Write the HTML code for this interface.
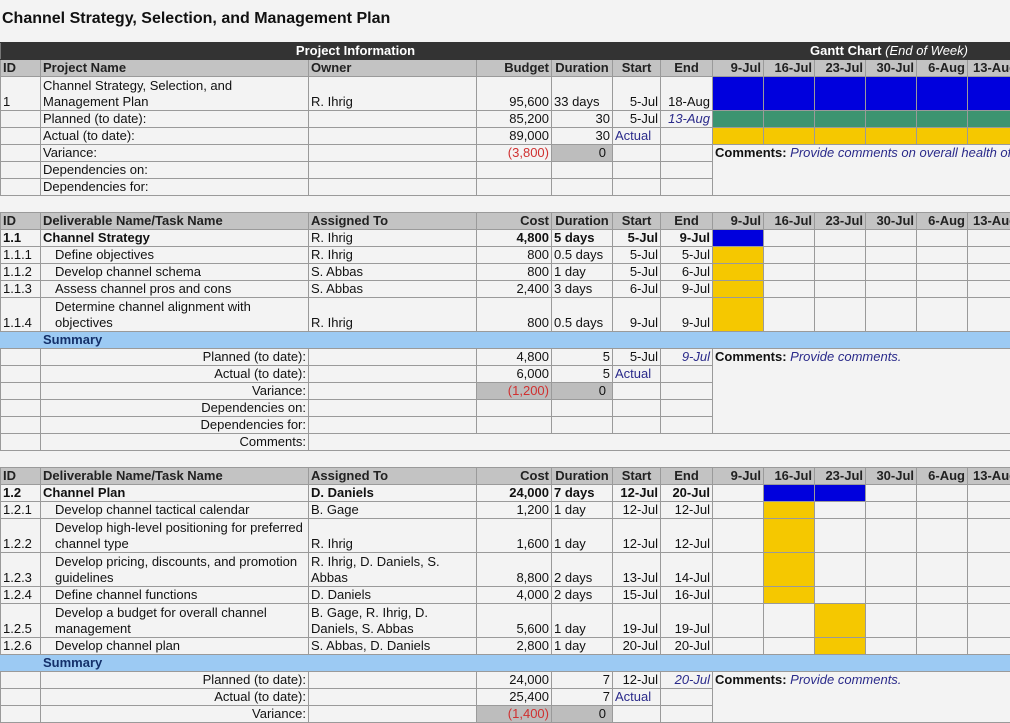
<!DOCTYPE html>
<html><head><meta charset="utf-8">
<style>
html,body{margin:0;padding:0;background:#f3f3f3;}
body{width:1010px;height:723px;overflow:hidden;position:relative;font-family:"Liberation Sans",Arial,sans-serif;font-size:13px;color:#111;}
.title{position:absolute;left:2px;top:10px;font-size:16px;font-weight:bold;}
table{position:absolute;left:0;top:42px;border-collapse:collapse;table-layout:fixed;width:1010px;}
td{border:1px solid #9a9a9a;padding:0 2px;height:16px;line-height:16px;white-space:nowrap;overflow:hidden;vertical-align:bottom;}
tr.d td{height:33px;}
.r{text-align:right}.c{text-align:center}.b{font-weight:bold}
.hd td{background:#333;color:#fff;font-weight:bold;border-color:#333;border-left:1px solid #777;}
.gh td{background:#c3c3c3;font-weight:bold;color:#222;}
.bu{background:#0000dd;}.gr{background:#3c9470;}.ye{background:#f5c800;}
.sm td{background:#9ccaf3;border-left-color:#9ccaf3;border-right-color:#9ccaf3;}
.sm .s{color:#14306a;font-weight:bold;}
.it{color:#2a2a8a;font-style:italic}.bl{color:#2a2a8a}
.red{color:#d03030}.gy{background:#bdbdbd}
.blank td{border-left:none;border-right:none;}
.ind{padding-left:14px}
.cm{vertical-align:top;}
.cm i{color:#2a2a8a}
</style></head><body>
<div class="title">Channel Strategy, Selection, and Management Plan</div>
<table>
<colgroup><col style="width:40px"><col style="width:268px"><col style="width:168px"><col style="width:75px"><col style="width:61px"><col style="width:48px"><col style="width:52px"><col style="width:51px"><col style="width:51px"><col style="width:51px"><col style="width:51px"><col style="width:51px"><col style="width:43px"></colgroup>
<tr class="hd"><td colspan="7" style="text-align:center;padding-left:0">Project Information</td><td colspan="6" style="padding-left:97px">Gantt Chart <i style="font-weight:normal">(End of Week)</i></td></tr>
<tr class="gh"><td>ID</td><td>Project Name</td><td>Owner</td><td class="r">Budget</td><td class="c">Duration</td><td class="c">Start</td><td class="c">End</td><td class="r">9-Jul</td><td class="r">16-Jul</td><td class="r">23-Jul</td><td class="r">30-Jul</td><td class="r">6-Aug</td><td style="padding-left:5px">13-Aug</td></tr>
<tr class="d"><td>1</td><td>Channel Strategy, Selection, and<br>Management Plan</td><td>R. Ihrig</td><td class="r">95,600</td><td>33 days</td><td class="r">5-Jul</td><td class="r">18-Aug</td><td class="bu"></td><td class="bu"></td><td class="bu"></td><td class="bu"></td><td class="bu"></td><td class="bu"></td></tr>
<tr><td></td><td>Planned (to date):</td><td></td><td class="r">85,200</td><td class="r">30</td><td class="r">5-Jul</td><td class="r it">13-Aug</td><td class="gr"></td><td class="gr"></td><td class="gr"></td><td class="gr"></td><td class="gr"></td><td class="gr"></td></tr>
<tr><td></td><td>Actual (to date):</td><td></td><td class="r">89,000</td><td class="r">30</td><td class="bl">Actual</td><td></td><td class="ye"></td><td class="ye"></td><td class="ye"></td><td class="ye"></td><td class="ye"></td><td class="ye"></td></tr>
<tr><td></td><td>Variance:</td><td></td><td class="r red">(3,800)</td><td class="r gy" style="padding-right:6px">0</td><td></td><td></td><td colspan="6" rowspan="3" class="cm"><b>Comments:</b> <i>Provide comments on overall health of the project</i></td></tr>
<tr><td></td><td>Dependencies on:</td><td></td><td></td><td></td><td></td><td></td></tr>
<tr><td></td><td>Dependencies for:</td><td></td><td></td><td></td><td></td><td></td></tr>
<tr class="blank"><td colspan="13"></td></tr>
<tr class="gh"><td>ID</td><td>Deliverable Name/Task Name</td><td>Assigned To</td><td class="r">Cost</td><td class="c">Duration</td><td class="c">Start</td><td class="c">End</td><td class="r">9-Jul</td><td class="r">16-Jul</td><td class="r">23-Jul</td><td class="r">30-Jul</td><td class="r">6-Aug</td><td style="padding-left:5px">13-Aug</td></tr>
<tr class="b"><td>1.1</td><td>Channel Strategy</td><td style="font-weight:normal">R. Ihrig</td><td class="r">4,800</td><td>5 days</td><td class="r">5-Jul</td><td class="r">9-Jul</td><td class="bu"></td><td></td><td></td><td></td><td></td><td></td></tr>
<tr><td>1.1.1</td><td class="ind">Define objectives</td><td>R. Ihrig</td><td class="r">800</td><td>0.5 days</td><td class="r">5-Jul</td><td class="r">5-Jul</td><td class="ye"></td><td></td><td></td><td></td><td></td><td></td></tr>
<tr><td>1.1.2</td><td class="ind">Develop channel schema</td><td>S. Abbas</td><td class="r">800</td><td>1 day</td><td class="r">5-Jul</td><td class="r">6-Jul</td><td class="ye"></td><td></td><td></td><td></td><td></td><td></td></tr>
<tr><td>1.1.3</td><td class="ind">Assess channel pros and cons</td><td>S. Abbas</td><td class="r">2,400</td><td>3 days</td><td class="r">6-Jul</td><td class="r">9-Jul</td><td class="ye"></td><td></td><td></td><td></td><td></td><td></td></tr>
<tr class="d"><td>1.1.4</td><td class="ind">Determine channel alignment with<br>objectives</td><td>R. Ihrig</td><td class="r">800</td><td>0.5 days</td><td class="r">9-Jul</td><td class="r">9-Jul</td><td class="ye"></td><td></td><td></td><td></td><td></td><td></td></tr>
<tr class="sm"><td></td><td class="s">Summary</td><td colspan="11"></td></tr>
<tr><td></td><td class="r">Planned (to date):</td><td></td><td class="r">4,800</td><td class="r">5</td><td class="r">5-Jul</td><td class="r it">9-Jul</td><td colspan="6" rowspan="5" class="cm"><b>Comments:</b> <i>Provide comments.</i></td></tr>
<tr><td></td><td class="r">Actual (to date):</td><td></td><td class="r">6,000</td><td class="r">5</td><td class="bl">Actual</td><td></td></tr>
<tr><td></td><td class="r">Variance:</td><td></td><td class="r red gy">(1,200)</td><td class="r gy" style="padding-right:6px">0</td><td></td><td></td></tr>
<tr><td></td><td class="r">Dependencies on:</td><td></td><td></td><td></td><td></td><td></td></tr>
<tr><td></td><td class="r">Dependencies for:</td><td></td><td></td><td></td><td></td><td></td></tr>
<tr><td></td><td class="r">Comments:</td><td colspan="11"></td></tr>
<tr class="blank"><td colspan="13"></td></tr>
<tr class="gh"><td>ID</td><td>Deliverable Name/Task Name</td><td>Assigned To</td><td class="r">Cost</td><td class="c">Duration</td><td class="c">Start</td><td class="c">End</td><td class="r">9-Jul</td><td class="r">16-Jul</td><td class="r">23-Jul</td><td class="r">30-Jul</td><td class="r">6-Aug</td><td style="padding-left:5px">13-Aug</td></tr>
<tr class="b"><td>1.2</td><td>Channel Plan</td><td>D. Daniels</td><td class="r">24,000</td><td>7 days</td><td class="r">12-Jul</td><td class="r">20-Jul</td><td></td><td class="bu"></td><td class="bu"></td><td></td><td></td><td></td></tr>
<tr><td>1.2.1</td><td class="ind">Develop channel tactical calendar</td><td>B. Gage</td><td class="r">1,200</td><td>1 day</td><td class="r">12-Jul</td><td class="r">12-Jul</td><td></td><td class="ye"></td><td></td><td></td><td></td><td></td></tr>
<tr class="d"><td>1.2.2</td><td class="ind">Develop high-level positioning for preferred<br>channel type</td><td>R. Ihrig</td><td class="r">1,600</td><td>1 day</td><td class="r">12-Jul</td><td class="r">12-Jul</td><td></td><td class="ye"></td><td></td><td></td><td></td><td></td></tr>
<tr class="d"><td>1.2.3</td><td class="ind">Develop pricing, discounts, and promotion<br>guidelines</td><td>R. Ihrig, D. Daniels, S.<br>Abbas</td><td class="r">8,800</td><td>2 days</td><td class="r">13-Jul</td><td class="r">14-Jul</td><td></td><td class="ye"></td><td></td><td></td><td></td><td></td></tr>
<tr><td>1.2.4</td><td class="ind">Define channel functions</td><td>D. Daniels</td><td class="r">4,000</td><td>2 days</td><td class="r">15-Jul</td><td class="r">16-Jul</td><td></td><td class="ye"></td><td></td><td></td><td></td><td></td></tr>
<tr class="d"><td>1.2.5</td><td class="ind">Develop a budget for overall channel<br>management</td><td>B. Gage, R. Ihrig, D.<br>Daniels, S. Abbas</td><td class="r">5,600</td><td>1 day</td><td class="r">19-Jul</td><td class="r">19-Jul</td><td></td><td></td><td class="ye"></td><td></td><td></td><td></td></tr>
<tr><td>1.2.6</td><td class="ind">Develop channel plan</td><td>S. Abbas, D. Daniels</td><td class="r">2,800</td><td>1 day</td><td class="r">20-Jul</td><td class="r">20-Jul</td><td></td><td></td><td class="ye"></td><td></td><td></td><td></td></tr>
<tr class="sm"><td></td><td class="s">Summary</td><td colspan="11"></td></tr>
<tr><td></td><td class="r">Planned (to date):</td><td></td><td class="r">24,000</td><td class="r">7</td><td class="r">12-Jul</td><td class="r it">20-Jul</td><td colspan="6" rowspan="3" class="cm"><b>Comments:</b> <i>Provide comments.</i></td></tr>
<tr><td></td><td class="r">Actual (to date):</td><td></td><td class="r">25,400</td><td class="r">7</td><td class="bl">Actual</td><td></td></tr>
<tr><td></td><td class="r">Variance:</td><td></td><td class="r red gy">(1,400)</td><td class="r gy" style="padding-right:6px">0</td><td></td><td></td></tr>
</table>
</body></html>
